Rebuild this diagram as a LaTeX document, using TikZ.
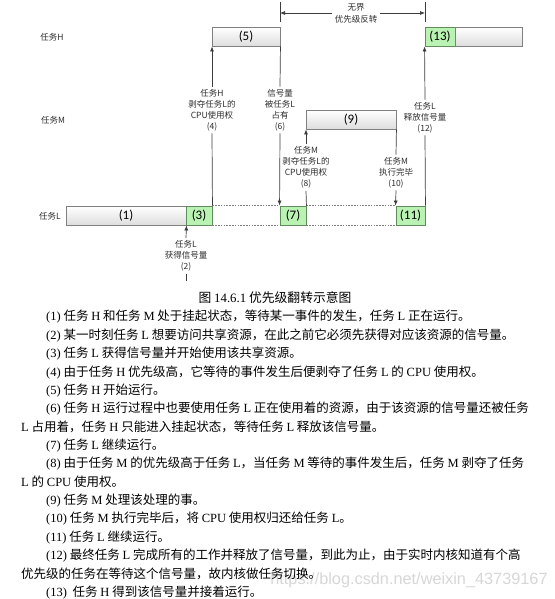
\documentclass[tikz,border=0pt]{standalone}
\usepackage{fontspec}
\setmainfont{Liberation Serif}
\newfontfamily\cjk{Noto Sans CJK SC}
\newfontfamily\boxfont{Carlito}
\newfontfamily\wmfont{Liberation Sans}
\usetikzlibrary{arrows.meta}
\definecolor{boxedge}{RGB}{128,128,128}
\definecolor{boxlow}{RGB}{222,222,222}
\definecolor{greenedge}{RGB}{95,140,88}
\definecolor{greenfill}{RGB}{185,242,178}
\definecolor{linecol}{RGB}{60,60,60}
\definecolor{labcol}{RGB}{45,45,45}
\definecolor{wmcol}{RGB}{215,215,215}
\newcommand\latn[1]{{\rmfamily #1}}
\begin{document}
\begin{tikzpicture}[x=1pt,y=-1pt,
  every node/.style={inner sep=0pt},
  graybox/.style={draw=boxedge, line width=0.9pt, top color=white, bottom color=boxlow,
    minimum height=19pt, font=\boxfont\fontsize{13}{14}\selectfont},
  greenbox/.style={draw=greenedge, line width=0.9pt, fill=greenfill,
    minimum height=19pt, font=\boxfont\fontsize{13}{14}\selectfont},
  lab/.style={font=\cjk\fontsize{8.5}{11}\selectfont, align=center, text=labcol, outer sep=2.5pt},
  rowlab/.style={font=\cjk\fontsize{8.5}{11}\selectfont, text=labcol},
  conn/.style={draw=linecol, line width=0.7pt},
  arr/.style={conn, -{Latex[length=5pt,width=4pt]}},
  dotline/.style={draw=boxedge, line width=0.8pt, dash pattern=on 1.6pt off 1.2pt},
  bodyline/.style={anchor=west, font=\cjk\fontsize{12.5}{14}\selectfont, text=black}
]
\useasboundingbox[fill=white] (0,0) rectangle (554,599);

% row labels
\node[rowlab] (rowH) at (52,37) {任务H};
\node[rowlab] (rowM) at (53,120) {任务M};
\node[rowlab] (rowL) at (50,216) {任务L};

% task H
\node[graybox, minimum width=68pt] (b5) at (246,36.5) {(5)};
\node[greenbox, minimum width=30pt] (g13) at (440,36.5) {(13)};
\node[graybox, minimum width=67pt, anchor=west] (b13) at (g13.east) {};
% task M
\node[graybox, minimum width=90pt] (b9) at (351,119.5) {(9)};
% task L
\node[graybox, minimum width=120pt] (b1) at (126,215.5) {(1)};
\node[greenbox, minimum width=26pt] (g3) at (199,215.5) {(3)};
\node[greenbox, minimum width=26pt] (g7) at (293,215.5) {(7)};
\node[greenbox, minimum width=29pt] (g11) at (410.5,215.5) {(11)};
\draw[dotline] (g3.north east) -- (g7.north west);
\draw[dotline] (g3.south east) -- (g7.south west);
\draw[dotline] (g7.north east) -- (g11.north west);
\draw[dotline] (g7.south east) -- (g11.south west);

% labels
\node[lab] (l4) at (212,110) {任务H\\剥夺任务L的\\CPU使用权\\(4)};
\node[lab] (l6) at (280,110) {信号量\\被任务L\\占有\\(6)};
\node[lab] (l8) at (306,167.5) {任务M\\剥夺任务L的\\CPU使用权\\(8)};
\node[lab] (l10) at (396,172.5) {任务M\\执行完毕\\(10)};
\node[lab] (l12) at (425,117.5) {任务L\\释放信号量\\(12)};
\node[lab] (l2) at (186,256) {任务L\\获得信号量\\(2)};
\coordinate (c2) at (186,281);

% connectors
\draw[conn] (g3.north east) -- (l4.south);
\draw[arr] (l4.north) -- (l4.north |- b5.south);
\draw[conn] (b5.south east) -- (l6.north);
\draw[arr] (l6.south) -- (g7.north west);
\draw[conn] (g7.north east) -- (l8.south);
\draw[arr] (l8.north) -- (l8.north |- b9.south);
\draw[conn] (b9.south east) -- (l10.north);
\draw[arr] (l10.south) -- (g11.north west);
\draw[conn] (g11.north east) -- (l12.south);
\draw[arr] (l12.north) -- (g13.south west);
\draw[conn] (c2) -- (l2.south);
\draw[arr] (l2.north) -- (b1.south east);

% unbounded priority inversion
\coordinate (tl1) at (280,2);
\coordinate (tl2) at (280,22);
\coordinate (tr1) at (425,2);
\coordinate (tr2) at (425,22);
\draw[conn] (tl1) -- (tl2);
\draw[conn] (tr1) -- (tr2);
\node[lab, font=\cjk\fontsize{8.5}{12}\selectfont] (ti) at (356,13) {无界\\优先级反转};
\draw[arr] (ti.west) -- (ti.west -| tl1);
\draw[arr] (ti.east) -- (ti.east -| tr1);

% caption
\node[font=\cjk\fontsize{12.8}{14}\selectfont] (cap) at (275,298) {图 \latn{14.6.1} 优先级翻转示意图};

% body text
\node[bodyline] (t1) at (46,317) {\latn{(1)} 任务 \latn{H} 和任务 \latn{M} 处于挂起状态，等待某一事件的发生，任务 \latn{L} 正在运行。};
\node[bodyline] (t2) at (46,335.35) {\latn{(2)} 某一时刻任务 \latn{L} 想要访问共享资源，在此之前它必须先获得对应该资源的信号量。};
\node[bodyline] (t3) at (46,353.7) {\latn{(3)} 任务 \latn{L} 获得信号量并开始使用该共享资源。};
\node[bodyline] (t4) at (46,372.05) {\latn{(4)} 由于任务 \latn{H} 优先级高，它等待的事件发生后便剥夺了任务 \latn{L} 的 \latn{CPU} 使用权。};
\node[bodyline] (t5) at (46,390.4) {\latn{(5)} 任务 \latn{H} 开始运行。};
\node[bodyline] (t6) at (46,408.75) {\latn{(6)} 任务 \latn{H} 运行过程中也要使用任务 \latn{L} 正在使用着的资源，由于该资源的信号量还被任务};
\node[bodyline] (t6b) at (21,427.1) {\latn{L} 占用着，任务 \latn{H} 只能进入挂起状态，等待任务 \latn{L} 释放该信号量。};
\node[bodyline] (t7) at (46,445.45) {\latn{(7)} 任务 \latn{L} 继续运行。};
\node[bodyline] (t8) at (46,463.8) {\latn{(8)} 由于任务 \latn{M} 的优先级高于任务 \latn{L}，当任务 \latn{M} 等待的事件发生后，任务 \latn{M} 剥夺了任务};
\node[bodyline] (t8b) at (21,482.15) {\latn{L} 的 \latn{CPU} 使用权。};
\node[bodyline] (t9) at (46,500.5) {\latn{(9)} 任务 \latn{M} 处理该处理的事。};
\node[bodyline] (t10) at (46,518.85) {\latn{(10)} 任务 \latn{M} 执行完毕后，将 \latn{CPU} 使用权归还给任务 \latn{L}。};
\node[bodyline] (t11) at (46,537.2) {\latn{(11)} 任务 \latn{L} 继续运行。};
\node[bodyline] (t12) at (46,555.55) {\latn{(12)} 最终任务 \latn{L} 完成所有的工作并释放了信号量，到此为止，由于实时内核知道有个高};
\node[font=\wmfont\fontsize{16.3}{18}\selectfont, text=wmcol] (wm) at (409,580) {https://blog.csdn.net/weixin\_43739167};
\node[bodyline] (t12b) at (21,573.9) {优先级的任务在等待这个信号量，故内核做任务切换。};
\node[bodyline] (t13) at (46,592.25) {\latn{(13)}\ \ 任务 \latn{H} 得到该信号量并接着运行。};
\end{tikzpicture}
\end{document}
